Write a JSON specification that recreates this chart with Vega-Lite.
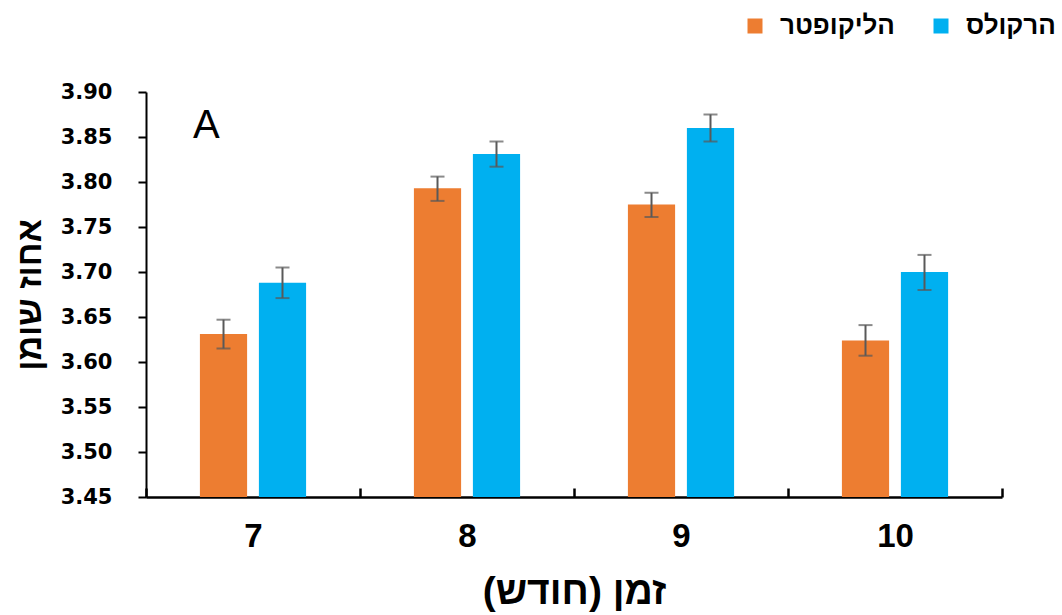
{
  "$schema": "https://vega.github.io/schema/vega-lite/v6.json",
  "width": 856,
  "height": 405,
  "autosize": {"type": "none"},
  "padding": {"left": 146, "top": 92, "right": 60, "bottom": 118},
  "background": "white",
  "config": {"view": {"stroke": null}, "font": "DejaVu Sans"},
  "data": {
    "values": [
      {"month": "7", "cultivar": "הליקופטר", "value": 3.631, "lo": 3.615, "hi": 3.647},
      {"month": "7", "cultivar": "הרקולס", "value": 3.688, "lo": 3.671, "hi": 3.705},
      {"month": "8", "cultivar": "הליקופטר", "value": 3.793, "lo": 3.779, "hi": 3.806},
      {"month": "8", "cultivar": "הרקולס", "value": 3.831, "lo": 3.817, "hi": 3.845},
      {"month": "9", "cultivar": "הליקופטר", "value": 3.775, "lo": 3.761, "hi": 3.788},
      {"month": "9", "cultivar": "הרקולס", "value": 3.860, "lo": 3.845, "hi": 3.875},
      {"month": "10", "cultivar": "הליקופטר", "value": 3.624, "lo": 3.607, "hi": 3.641},
      {"month": "10", "cultivar": "הרקולס", "value": 3.700, "lo": 3.680, "hi": 3.719}
    ]
  },
  "layer": [
    {
      "mark": {"type": "bar"},
      "encoding": {
        "x": {
          "field": "month", "type": "nominal", "sort": ["7", "8", "9", "10"],
          "scale": {"paddingInner": 0, "paddingOuter": 0},
          "axis": {
            "title": "זמן (חודש)", "labelAngle": 0, "tickBand": "extent",
            "tickSize": -9, "tickWidth": 2.5, "tickColor": "black",
            "domainColor": "black", "domainWidth": 2.5,
            "labelFont": "Liberation Sans", "labelFontWeight": "bold", "labelFontSize": 33,
            "labelColor": "black", "labelBaseline": "alphabetic", "labelPadding": 58,
            "titleFont": "Liberation Sans", "titleFontSize": 39, "titleFontWeight": "bold",
            "titleColor": "black", "titleY": 106, "titleBaseline": "alphabetic"
          }
        },
        "xOffset": {
          "field": "cultivar", "type": "nominal", "sort": ["הליקופטר", "הרקולס"],
          "scale": {"paddingInner": 0.2, "paddingOuter": 0.914}
        },
        "y": {
          "field": "value", "type": "quantitative",
          "scale": {"domain": [3.45, 3.9], "zero": false, "nice": false},
          "axis": {
            "title": "אחוז שומן",
            "values": [3.45, 3.5, 3.55, 3.6, 3.65, 3.7, 3.75, 3.8, 3.85, 3.9],
            "format": ".2f", "grid": false,
            "domainColor": "black", "domainWidth": 2,
            "tickColor": "black", "tickWidth": 2, "tickSize": 8,
            "labelFont": "DejaVu Sans", "labelFontWeight": "bold", "labelFontSize": 21,
            "labelColor": "black", "labelPadding": 26,
            "titleFont": "Liberation Sans", "titleFontSize": 34, "titleFontWeight": "bold",
            "titleColor": "black", "titleX": -106, "titleY": 202.5,
            "titleBaseline": "alphabetic", "titleAlign": "center", "titleAngle": -90
          }
        },
        "y2": {"datum": 3.45},
        "color": {
          "field": "cultivar", "type": "nominal",
          "scale": {"domain": ["הליקופטר", "הרקולס"], "range": ["#ED7D31", "#00B0F0"]},
          "legend": {
            "title": null, "orient": "none", "legendX": 596, "legendY": -79,
            "direction": "horizontal", "symbolType": "square", "symbolSize": 225,
            "symbolStrokeWidth": 0,
            "labelFont": "Liberation Sans", "labelFontWeight": "bold", "labelFontSize": 26,
            "labelColor": "black", "labelOffset": 12, "columnPadding": 33, "padding": 0
          }
        }
      }
    },
    {
      "mark": {"type": "rule", "color": "#595959", "strokeWidth": 2},
      "encoding": {
        "x": {"field": "month", "type": "nominal", "sort": ["7", "8", "9", "10"]},
        "xOffset": {"field": "cultivar", "type": "nominal", "sort": ["הליקופטר", "הרקולס"]},
        "y": {"field": "lo", "type": "quantitative"},
        "y2": {"field": "hi"}
      }
    },
    {
      "mark": {"type": "tick", "color": "#595959", "size": 14, "thickness": 2},
      "encoding": {
        "x": {"field": "month", "type": "nominal", "sort": ["7", "8", "9", "10"]},
        "xOffset": {"field": "cultivar", "type": "nominal", "sort": ["הליקופטר", "הרקולס"]},
        "y": {"field": "lo", "type": "quantitative"}
      }
    },
    {
      "mark": {"type": "tick", "color": "#595959", "size": 14, "thickness": 2},
      "encoding": {
        "x": {"field": "month", "type": "nominal", "sort": ["7", "8", "9", "10"]},
        "xOffset": {"field": "cultivar", "type": "nominal", "sort": ["הליקופטר", "הרקולס"]},
        "y": {"field": "hi", "type": "quantitative"}
      }
    },
    {
      "data": {"values": [{"month": "7", "label": "A", "yv": 3.849}]},
      "mark": {"type": "text", "align": "left", "baseline": "alphabetic", "dx": 47, "font": "Liberation Sans", "fontSize": 40, "color": "black"},
      "encoding": {
        "x": {"field": "month", "type": "nominal", "sort": ["7", "8", "9", "10"], "bandPosition": 0},
        "y": {"field": "yv", "type": "quantitative"},
        "text": {"field": "label"}
      }
    }
  ]
}
